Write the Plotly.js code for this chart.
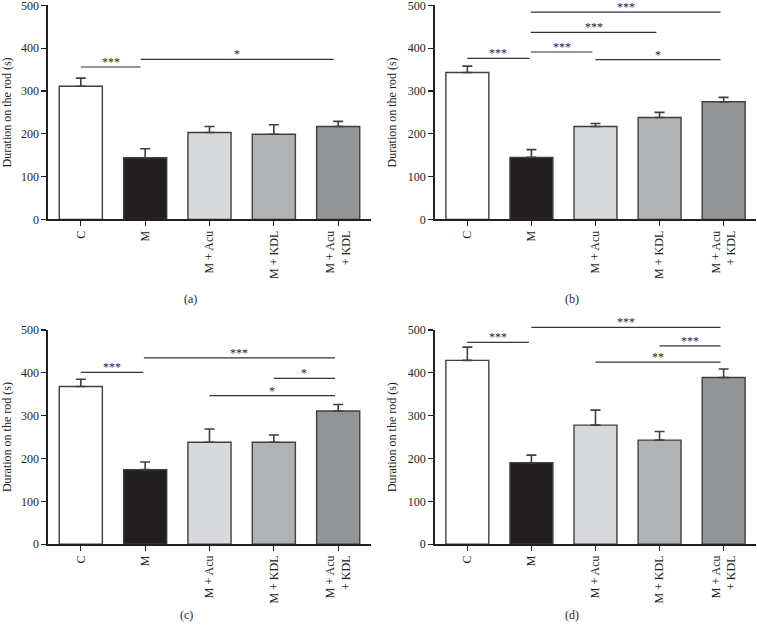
<!DOCTYPE html>
<html>
<head>
<meta charset="utf-8">
<script src="https://cdn.plot.ly/plotly-3.0.1.min.js"></script>
<style>html,body{margin:0;padding:0;background:#fff;}#chart{width:757px;height:641px;}</style>
</head>
<body>
<div id="chart"></div>
<script>
// ---- data ----
const categories = ['C', 'M', 'M + Acu', 'M + KDL', 'M + Acu<br>+ KDL'];
const barColors = ['#ffffff', '#231f20', '#d8d9da', '#b1b2b4', '#939598'];

const meanA = [311, 144, 203, 199, 217];
const errA  = [19, 21, 14, 22, 12];
const meanB = [343, 145, 217, 238, 275];
const errB  = [15, 18, 7, 12, 10];
const meanC = [368, 174, 238, 238, 311];
const errC  = [17, 18, 31, 17, 15];
const meanD = [429, 190, 278, 243, 389];
const errD  = [31, 18, 35, 20, 20];

// significance brackets: [from index, to index, height (s), label]
const sigA = [[0, 0.93, 356, '***'], [0.93, 3.93, 374, '*']];
const sigB = [[0, 0.97, 376, '***'], [0.99, 1.95, 391, '***'], [0.99, 2.95, 437, '***'], [0.99, 3.95, 484, '***'], [2.0, 3.95, 373, '*']];
const sigC = [[0, 0.97, 401, '***'], [0.98, 3.95, 435, '***'], [3.0, 3.95, 387, '*'], [2.0, 3.95, 347, '*']];
const sigD = [[0, 0.96, 471, '***'], [1.0, 3.95, 506, '***'], [3.0, 3.95, 463, '***'], [2.0, 3.95, 425, '**']];

const panelLabels = ['(a)', '(b)', '(c)', '(d)'];
const yTicks = [0, 100, 200, 300, 400, 500];

// ---- build ----
const panels = [
  {mean: meanA, err: errA, sig: sigA},
  {mean: meanB, err: errB, sig: sigB},
  {mean: meanC, err: errC, sig: sigC},
  {mean: meanD, err: errD, sig: sigD}
];
const xIdx = categories.map((c, i) => i);
const yRange = [0, 500];
const xRange = [-0.51, 4.51];
const yDom = v => (v - yRange[0]) / (yRange[1] - yRange[0]);

const xDomains = [[0.0634, 0.4901], [0.5742, 0.9991], [0.0634, 0.4901], [0.5742, 0.9991]];
const yDomains = [[0.6576, 0.9917], [0.6576, 0.9917], [0.1510, 0.4852], [0.1510, 0.4852]];
const labelPos = [[190, 299], [572, 299], [186, 615], [572, 615]];

const FONT = 'Liberation Serif, Times New Roman, serif';
const AX = '#231f20';
const EDGE = '#3f3f40';

const data = [];
const shapes = [];
const annotations = [];
const layout = {
  width: 757, height: 641,
  margin: {l: 0, r: 0, t: 0, b: 0},
  paper_bgcolor: '#ffffff', plot_bgcolor: '#ffffff',
  showlegend: false,
  font: {family: FONT, size: 12, color: AX},
  shapes: shapes, annotations: annotations
};

panels.forEach((p, k) => {
  const n = k === 0 ? '' : String(k + 1);
  data.push({
    type: 'bar', x: xIdx, y: p.mean,
    xaxis: 'x' + n, yaxis: 'y' + n,
    width: 0.67,
    marker: {color: barColors, line: {color: EDGE, width: 1.4}},
    error_y: {type: 'data', symmetric: false, array: p.err, arrayminus: p.err.map(() => 0),
              color: EDGE, thickness: 1.6, width: 5},
    hoverinfo: 'skip'
  });
  layout['xaxis' + n] = {
    domain: xDomains[k], anchor: 'y' + n, range: xRange,
    tickmode: 'array', tickvals: xIdx, ticktext: categories, tickangle: -90,
    showline: true, linecolor: AX, linewidth: 1.5,
    ticks: 'outside', ticklen: 5, tickwidth: 1.2, tickcolor: AX,
    showgrid: false, zeroline: false, fixedrange: true, ticklabeloverflow: 'allow',
    tickfont: {family: FONT, size: 12, color: AX}
  };
  layout['yaxis' + n] = {
    domain: yDomains[k], anchor: 'x' + n, range: yRange,
    tickmode: 'array', tickvals: yTicks,
    showline: true, linecolor: AX, linewidth: 1.5,
    ticks: 'outside', ticklen: 5, tickwidth: 1.2, tickcolor: AX,
    showgrid: false, zeroline: false, fixedrange: true, ticklabeloverflow: 'allow',
    tickfont: {family: FONT, size: 12, color: AX},
    title: {text: 'Duration on the rod (s)', font: {family: FONT, size: 12, color: AX}, standoff: 8}
  };
  p.sig.forEach(s => {
    shapes.push({
      type: 'line', xref: 'x' + n, yref: 'y' + n + ' domain',
      x0: s[0], x1: s[1], y0: yDom(s[2]), y1: yDom(s[2]),
      line: {color: '#333333', width: 1.2}
    });
    annotations.push({
      xref: 'x' + n, yref: 'y' + n + ' domain',
      x: (s[0] + s[1]) / 2, y: yDom(s[2]),
      text: s[3], showarrow: false, yanchor: 'bottom', yshift: -4,
      font: {family: FONT, size: 12, color: '#231f20'}
    });
  });
  annotations.push({
    xref: 'paper', yref: 'paper',
    x: labelPos[k][0] / 757, y: 1 - labelPos[k][1] / 641,
    text: panelLabels[k], showarrow: false, xanchor: 'center', yanchor: 'middle',
    font: {family: FONT, size: 12, color: AX}
  });
});

Plotly.newPlot('chart', data, layout, {staticPlot: true, displayModeBar: false});
</script>
</body>
</html>
